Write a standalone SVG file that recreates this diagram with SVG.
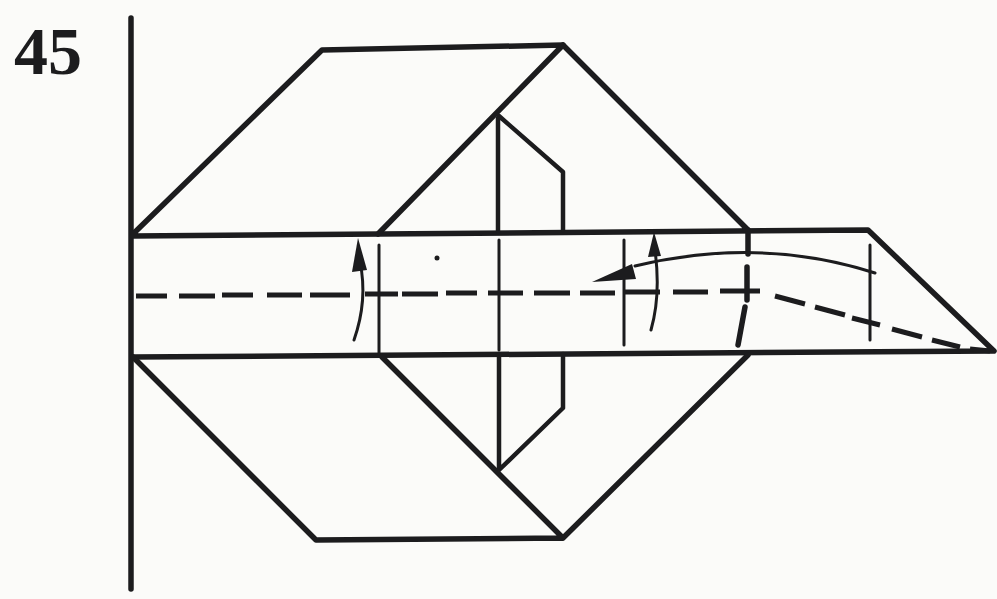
<svg xmlns="http://www.w3.org/2000/svg" width="997" height="599" viewBox="0 0 997 599">
<style>
.l{fill:none;stroke:#1c1c1e;stroke-width:5.5;stroke-linecap:round;stroke-linejoin:round}
.m{fill:none;stroke:#1c1c1e;stroke-width:4.5;stroke-linecap:round;stroke-linejoin:round}
.t{fill:none;stroke:#1c1c1e;stroke-width:3;stroke-linecap:round}
.d{fill:none;stroke:#1c1c1e;stroke-width:5}
</style>
<rect width="997" height="599" fill="#fbfbf9"/>
<text x="14" y="74" font-family="Liberation Serif, serif" font-size="68" font-weight="bold" fill="#1c1c1e">45</text>
<g id="fold">
<path class="l" d="M131 18V589"/>
<path class="l" d="M133 234L322 50L563 45L748 230M133 236L380 234L868 230L994 351L133 357"/>
<path class="l" d="M563 45L378 234"/>
<path class="m" d="M499 116L563 172V230M498 118V232"/>
<path class="l" d="M133 357L316 540L563 538L748 355M382 357L563 538"/>
<path class="m" d="M499 354V470L563 408V354"/>
<path class="t" d="M379 245V353M499 240V350M624 240V345M870 245V340"/>
<path class="l" d="M748 230V254M747 267V300M745 307L738 345"/>
<path class="d" d="M136 296H167M179 296H215M222 295H253M267 295H302M310 295H350M365 294H398M402 294H438M446 293H477M488 293H523M534 293H570M580 293H615M625 292H660M673 292H708M720 291H760M775 296L805 304M815 307L845 315M852 318L880 325M892 329L922 337M932 340L960 347M970 349L990 351"/>
</g>
<g id="arrows">
<path class="t" d="M354 340Q368 300 360 262"/>
<path d="M358 238L352 272L367 270Z" fill="#1c1c1e"/>
<path class="t" d="M651 330Q661 295 655 250"/>
<path d="M654 232L648 257L661 256Z" fill="#1c1c1e"/>
<path class="t" d="M875 273Q760 236 635 266"/>
<path d="M592 282L632 264L636 279Z" fill="#1c1c1e"/>
</g>
<circle cx="437" cy="258" r="2.5" fill="#1c1c1e"/>
</svg>
